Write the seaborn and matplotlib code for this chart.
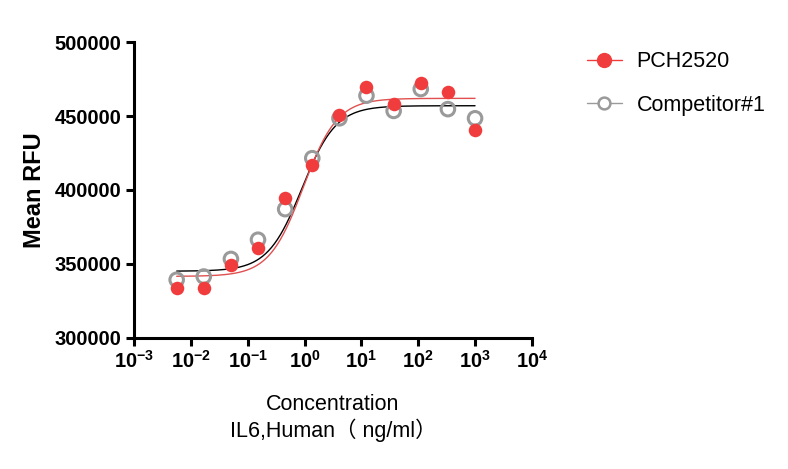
import numpy as np
import pandas as pd
import matplotlib
matplotlib.use('Agg')
import matplotlib.pyplot as plt
import seaborn as sns
from matplotlib.lines import Line2D

sns.set_style('white')
plt.rcParams['font.family'] = ['Liberation Sans', 'Noto Sans CJK SC', 'DejaVu Sans']
plt.rcParams['mathtext.fontset'] = 'custom'
plt.rcParams['mathtext.rm'] = 'Liberation Sans'
plt.rcParams['mathtext.bf'] = 'Liberation Sans:bold'
for k in ['text.color', 'axes.labelcolor', 'xtick.color', 'ytick.color']:
    plt.rcParams[k] = 'black'

# 3-fold dilution series, ng/ml
conc = [0.00564, 0.0169, 0.0508, 0.152, 0.457, 1.37, 4.12, 12.3, 37.0, 111.0, 333.0, 1000.0]
pch2520 = [333500, 333500, 349500, 360800, 394500, 417000, 450500, 469500, 458000, 472500, 466000, 440500]
competitor = [339200, 341400, 353300, 366300, 387000, 421500, 448500, 463800, 453500, 468300, 454700, 448500]

# 4PL fit parameters: bottom, top, EC50, hill
fit_pch = (341500, 462000, 0.95, 1.45)
fit_comp = (345000, 457000, 0.90, 1.45)

xticks = [1e-3, 1e-2, 1e-1, 1e0, 1e1, 1e2, 1e3, 1e4]
xtick_labels = [r'$\mathbf{10^{-3}}$', r'$\mathbf{10^{-2}}$', r'$\mathbf{10^{-1}}$', r'$\mathbf{10^{0}}$',
                r'$\mathbf{10^{1}}$', r'$\mathbf{10^{2}}$', r'$\mathbf{10^{3}}$', r'$\mathbf{10^{4}}$']
yticks = [300000, 350000, 400000, 450000, 500000]


def four_pl(x, p):
    b, t, ec, h = p
    return b + (t - b) / (1 + (ec / x) ** h)


pts = pd.DataFrame({
    'conc': conc * 2,
    'rfu': pch2520 + competitor,
    'group': ['PCH2520'] * len(conc) + ['Competitor#1'] * len(conc),
})
xs = np.logspace(np.log10(conc[0]), np.log10(conc[-1]), 300)
fit = pd.DataFrame({
    'conc': np.concatenate([xs, xs]),
    'rfu': np.concatenate([four_pl(xs, fit_comp), four_pl(xs, fit_pch)]),
    'group': ['Competitor#1'] * len(xs) + ['PCH2520'] * len(xs),
})

red = '#f03c3c'
gray = '#9a9a9a'

fig = plt.figure(figsize=(7.88, 4.69), dpi=100)
ax = fig.add_axes([0.170, 0.280, 0.505, 0.630])

sns.lineplot(data=fit, x='conc', y='rfu', hue='group',
             palette={'Competitor#1': 'black', 'PCH2520': '#e05050'},
             linewidth=1.0, legend=False, ax=ax, zorder=2)
comp = pts[pts.group == 'Competitor#1']
sns.scatterplot(data=comp, x='conc', y='rfu', marker='o', s=95,
                facecolor='none', edgecolor=gray, linewidth=2.2, legend=False, ax=ax, zorder=3)
pch = pts[pts.group == 'PCH2520']
sns.scatterplot(data=pch, x='conc', y='rfu', marker='o', s=95,
                color=red, edgecolor=red, linewidth=0, legend=False, ax=ax, zorder=4)

ax.set_xscale('log')
ax.set_xlim(1e-3, 1e4)
ax.set_ylim(300000, 500000)
ax.set_xticks(xticks)
ax.set_xticklabels(xtick_labels)
ax.minorticks_off()
ax.set_yticks(yticks)
ax.set_yticklabels([str(v) for v in yticks], fontweight='bold')
ax.tick_params(axis='both', labelsize=14.5, width=2.2, length=6, direction='out',
               bottom=True, left=True, pad=3)

for side in ['top', 'right']:
    ax.spines[side].set_visible(False)
for side in ['left', 'bottom']:
    ax.spines[side].set_linewidth(2.2)
    ax.spines[side].set_color('black')

ax.set_ylabel('Mean RFU', fontsize=17, fontweight='bold', labelpad=6)
ax.set_xlabel('Concentration\nIL6,Human\uff08 ng/ml\uff09', fontsize=15.5, labelpad=16,
              linespacing=1.15)

handles = [
    Line2D([], [], color=red, marker='o', markersize=10, linewidth=1.0,
           markerfacecolor=red, markeredgecolor=red),
    Line2D([], [], color=gray, marker='o', markersize=8.5, linewidth=1.0,
           markerfacecolor='white', markeredgecolor=gray, markeredgewidth=1.8),
]
ax.legend(handles, ['PCH2520', 'Competitor#1'], loc='upper left',
          bbox_to_anchor=(1.09, 1.035), frameon=False, fontsize=15.5,
          handlelength=1.6, handletextpad=0.7, labelspacing=1.05)

fig.savefig('out.png', dpi=100)
